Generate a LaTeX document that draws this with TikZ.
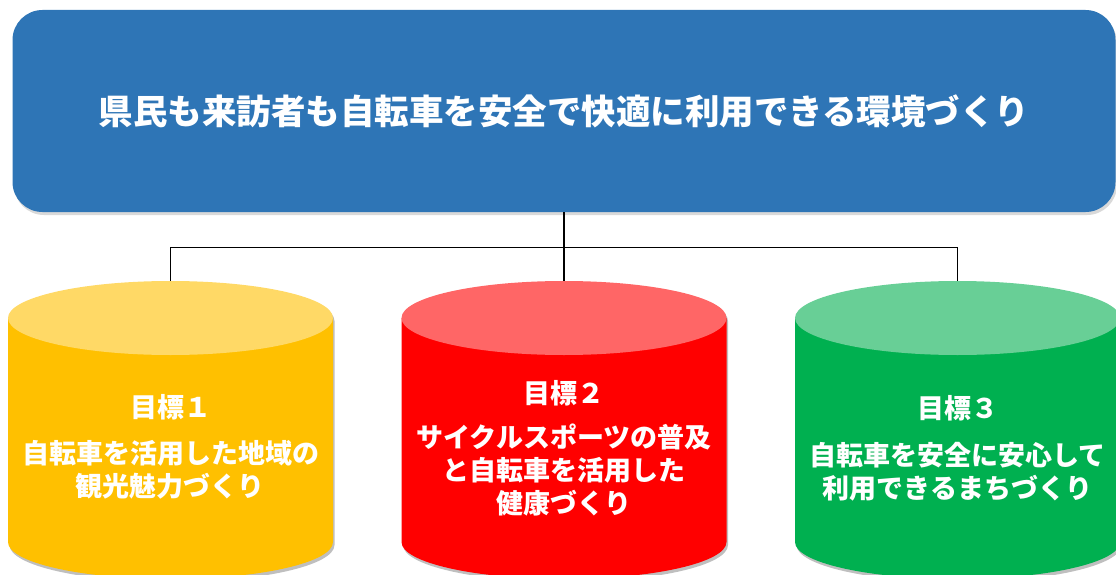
\documentclass[tikz,border=0pt]{standalone}
\usepackage{fontspec}
\newfontfamily\jpfont{Noto Sans CJK JP}
\usepackage{tikz}
\usetikzlibrary{positioning,shadows}
\definecolor{goalblue}{HTML}{2E75B6}
\definecolor{aimyellow}{HTML}{FFC000}
\definecolor{aimyellowtop}{HTML}{FFD966}
\definecolor{aimred}{HTML}{FF0000}
\definecolor{aimredtop}{HTML}{FF6666}
\definecolor{aimgreen}{HTML}{00B050}
\definecolor{aimgreentop}{HTML}{68CF96}

\begin{document}
\begin{tikzpicture}[x=1pt,y=-1pt,
	conn/.style={draw=black, line width=1.3pt},
	goal box/.style={rectangle, rounded corners=30pt, fill=goalblue, minimum width=1103pt, minimum height=202pt,
		text=white, font=\jpfont\bfseries\fontsize{34.5}{40}\selectfont,
		drop shadow={opacity=0.3, shadow xshift=1.5pt, shadow yshift=-3pt}},
	aim title/.style={text=white, font=\jpfont\bfseries\fontsize{27}{33}\selectfont},
	aim text/.style={aim title, align=center}]
	\useasboundingbox (0,0) rectangle (1116,575);
	
	\node[goal box] (goal) at (564,111) {県民も来訪者も自転車を安全で快適に利用できる環境づくり};
	
	% three cylinders
	\foreach \cx/\body/\lid/\name in {170.5/aimyellow/aimyellowtop/cyl1,564/aimred/aimredtop/cyl2,957.5/aimgreen/aimgreentop/cyl3}{
		\fill[black, opacity=0.25] (\cx-161,321) -- (\cx-161,545) arc[start angle=180, end angle=360, x radius=162.5pt, y radius=37pt]
			-- (\cx+164,321) arc[start angle=0, end angle=180, x radius=162.5pt, y radius=37pt] -- cycle;
		\fill[\body] (\cx-162.5,318) -- (\cx-162.5,542) arc[start angle=180, end angle=360, x radius=162.5pt, y radius=37pt]
			-- (\cx+162.5,318) -- cycle;
		\fill[\lid] (\cx,318) ellipse [x radius=162.5pt, y radius=37pt];
		\coordinate (\name) at (\cx,281);
	}
	
	\draw[conn] (goal.south) -- (cyl2);
	\draw[conn] (goal.south) -- ++(0,35) -| (cyl1);
	\draw[conn] (goal.south) -- ++(0,35) -| (cyl3);
	
	\node[aim title] (t1) at (170.5,407) {目標１};
	\node[aim text] (d1) at (170.5,470) {自転車を活用した地域の\\観光魅力づくり};
	\node[aim title] (t2) at (564,393) {目標２};
	\node[aim text] (d2) at (564,470) {サイクルスポーツの普及\\と自転車を活用した\\健康づくり};
	\node[aim title] (t3) at (957.5,408) {目標３};
	\node[aim text] (d3) at (957.5,472) {自転車を安全に安心して\\利用できるまちづくり};
\end{tikzpicture}
\end{document}
